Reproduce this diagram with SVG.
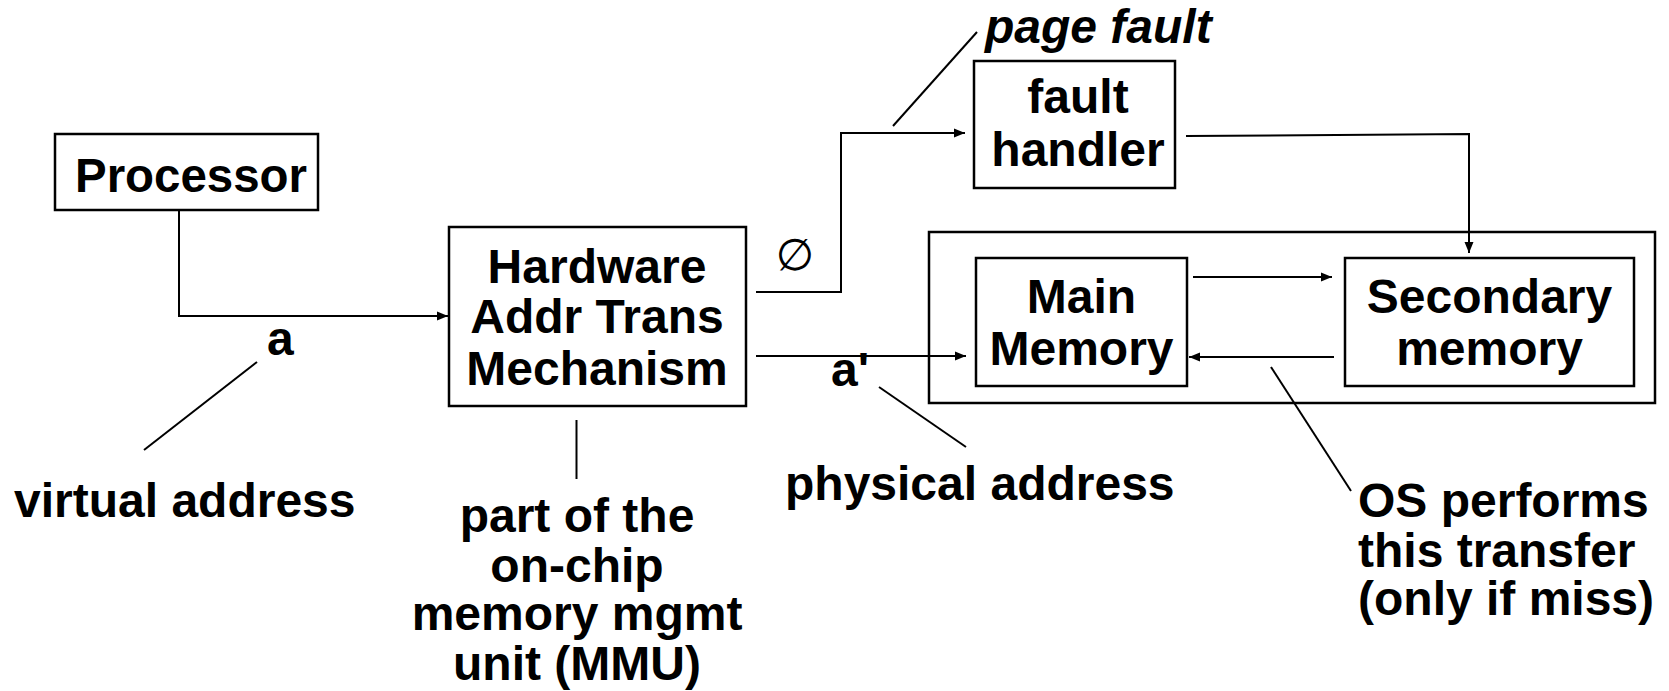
<svg xmlns="http://www.w3.org/2000/svg" width="1669" height="691" viewBox="0 0 1669 691">
<defs>
<marker id="arr" markerWidth="12" markerHeight="10" refX="11" refY="5" orient="auto" markerUnits="userSpaceOnUse">
<path d="M0,0.5 L11,5 L0,9.5 Z" fill="#000"/>
</marker>
<style>
.box{fill:none;stroke:#000;stroke-width:2.5}
.ln{fill:none;stroke:#000;stroke-width:2}
.t{font-family:"Liberation Sans",Arial,sans-serif;font-weight:bold;font-size:48px;fill:#000}
.c{text-anchor:middle}
</style>
</defs>
<rect width="1669" height="691" fill="#fff"/>
<g id="processor">
<rect class="box" x="55" y="134" width="263" height="76"/>
<text class="t" x="75" y="192" textLength="232" lengthAdjust="spacingAndGlyphs">Processor</text>
</g>
<g id="hardware">
<rect class="box" x="449" y="227" width="297" height="179"/>
<text class="t c" x="597" y="283">Hardware</text>
<text class="t c" x="597" y="333">Addr Trans</text>
<text class="t c" x="597" y="385">Mechanism</text>
</g>
<g id="fault-handler">
<rect class="box" x="974" y="61" width="201" height="127"/>
<text class="t c" x="1078" y="113">fault</text>
<text class="t c" x="1078" y="166">handler</text>
</g>
<g id="memory-system">
<rect class="box" x="929" y="232" width="726" height="171"/>
</g>
<g id="main-memory">
<rect class="box" x="976" y="258" width="211" height="128"/>
<text class="t c" x="1081.5" y="313">Main</text>
<text class="t c" x="1081.5" y="365">Memory</text>
</g>
<g id="secondary-memory">
<rect class="box" x="1345" y="258" width="289" height="128"/>
<text class="t c" x="1489.5" y="313">Secondary</text>
<text class="t c" x="1489.5" y="365">memory</text>
</g>
<g id="connectors">
<polyline class="ln" points="179,210 179,316 448,316" marker-end="url(#arr)"/>
<polyline class="ln" points="756,292 841,292 841,133 965,133" marker-end="url(#arr)"/>
<polyline class="ln" points="1186,136 1469,134 1469,253" marker-end="url(#arr)"/>
<line class="ln" x1="756" y1="356" x2="966" y2="356" marker-end="url(#arr)"/>
<line class="ln" x1="1193" y1="277" x2="1332" y2="277" marker-end="url(#arr)"/>
<line class="ln" x1="1334" y1="357" x2="1189" y2="357" marker-end="url(#arr)"/>
<line class="ln" x1="257" y1="362" x2="144" y2="450"/>
<line class="ln" x1="576.5" y1="420" x2="576.5" y2="479"/>
<line class="ln" x1="879" y1="387" x2="966" y2="447"/>
<line class="ln" x1="1271" y1="367" x2="1351" y2="491"/>
<line class="ln" x1="977" y1="32" x2="893" y2="126"/>
</g>
<g id="labels">
<text class="t" x="985" y="43" font-style="italic">page fault</text>
<text x="795" y="270" text-anchor="middle" font-family="DejaVu Sans,sans-serif" font-size="44" fill="#000">∅</text>
<text class="t" x="267" y="355">a</text>
<text class="t" x="831" y="386">a'</text>
<text class="t" x="14" y="517">virtual address</text>
<text class="t" x="785" y="500">physical address</text>
<text class="t c" x="577" y="532">part of the</text>
<text class="t c" x="577" y="582">on-chip</text>
<text class="t c" x="577" y="630">memory mgmt</text>
<text class="t c" x="577" y="680">unit (MMU)</text>
<text class="t" x="1358" y="517">OS performs</text>
<text class="t" x="1358" y="567">this transfer</text>
<text class="t" x="1358" y="615">(only if miss)</text>
</g>
</svg>
